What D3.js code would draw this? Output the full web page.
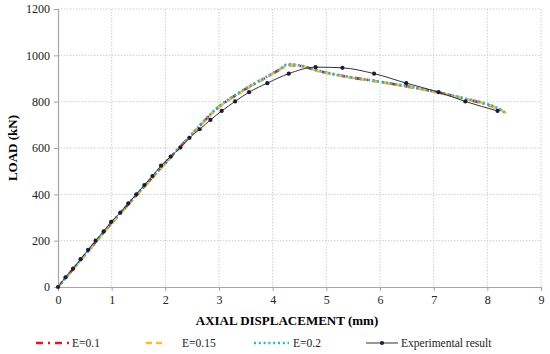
<!DOCTYPE html>
<html>
<head>
<meta charset="utf-8">
<script src="https://cdn.jsdelivr.net/npm/d3@7"></script>
<style>
  html, body { margin: 0; padding: 0; background: #fff; }
  svg text { font-family: "Liberation Serif", "Times New Roman", Tinos, serif !important; }
</style>
</head>
<body>
<svg id="chart" width="550" height="354"></svg>
<script>
// Load vs axial displacement — FE models vs experiment
const xTicks = [0, 1, 2, 3, 4, 5, 6, 7, 8, 9];
const yTicks = [0, 200, 400, 600, 800, 1000, 1200];

const expX = [0, 0.14, 0.28, 0.42, 0.56, 0.70, 0.85, 0.99, 1.16, 1.31, 1.46, 1.61, 1.76, 1.92, 2.10, 2.28, 2.45, 2.64, 2.84, 3.05, 3.30, 3.56, 3.90, 4.30, 4.80, 5.30, 5.89, 6.49, 7.09, 7.59, 8.19];
const expY = [0, 42, 79, 120, 160, 200, 240, 281, 321, 361, 400, 440, 479, 524, 563, 602, 644, 681, 721, 760, 801, 841, 880, 921, 949, 946, 921, 880, 841, 801, 760];

const fe01X = [0, 0.5, 1, 1.5, 2, 2.5, 3, 3.3, 3.6, 3.9, 4.15, 4.3, 4.5, 4.8, 5.3, 5.9, 6.5, 7, 7.6, 7.9, 8.2, 8.3];
const fe01Y = [0, 138, 276, 406, 535, 660, 778, 826, 869, 907, 941, 958, 955, 936, 911, 889, 866, 844, 811, 794, 769, 757];

const fe015X = [0, 0.5, 1, 1.5, 2, 2.5, 3, 3.3, 3.6, 3.9, 4.15, 4.32, 4.5, 4.8, 5.3, 5.9, 6.5, 7, 7.6, 7.9, 8.2, 8.36];
const fe015Y = [0, 137, 274, 404, 533, 659, 777, 825, 869, 908, 942, 960, 955, 935, 910, 888, 865, 843, 812, 795, 770, 749];

const fe02X = [0, 0.5, 1, 1.5, 2, 2.5, 3, 3.3, 3.6, 3.9, 4.15, 4.28, 4.5, 4.8, 5.3, 5.9, 6.5, 7, 7.6, 7.9, 8.2, 8.32];
const fe02Y = [0, 139, 278, 408, 537, 662, 780, 828, 871, 909, 943, 962, 957, 937, 912, 890, 867, 845, 813, 796, 771, 754];

const series = [
  { name: "E=0.1", xs: fe01X, ys: fe01Y, color: "#e0191f", dash: "7,4,2,4" },
  { name: "E=0.15", xs: fe015X, ys: fe015Y, color: "#f2c12e", dash: "7,5" },
  { name: "E=0.2", xs: fe02X, ys: fe02Y, color: "#29b3e0", dash: "2,2.5" }
];

const svg = d3.select("#chart");
const margin = { top: 9, right: 9, bottom: 67, left: 58 };
const width = 550 - margin.left - margin.right;
const height = 354 - margin.top - margin.bottom;

const x = d3.scaleLinear().domain([0, 9]).range([0, width]);
const y = d3.scaleLinear().domain([0, 1200]).range([height, 0]);

const g = svg.append("g").attr("transform", `translate(${margin.left},${margin.top})`);

// grid
g.append("g")
  .selectAll("line")
  .data(yTicks.filter((d) => d > 0))
  .join("line")
  .attr("x1", 0).attr("x2", width)
  .attr("y1", (d) => y(d)).attr("y2", (d) => y(d))
  .attr("stroke", "#cfcfcf").attr("stroke-dasharray", "1.5,1.5");

g.append("g")
  .selectAll("line")
  .data(xTicks.filter((d) => d > 0))
  .join("line")
  .attr("x1", (d) => x(d)).attr("x2", (d) => x(d))
  .attr("y1", 0).attr("y2", height)
  .attr("stroke", "#cfcfcf").attr("stroke-dasharray", "1.5,1.5");

// axes
const xAxis = g.append("g")
  .attr("transform", `translate(0,${height})`)
  .call(d3.axisBottom(x).tickValues(xTicks).tickFormat(d3.format("d")).tickSize(4).tickPadding(4));
const yAxis = g.append("g")
  .call(d3.axisLeft(y).tickValues(yTicks).tickFormat(d3.format("d")).tickSize(4).tickPadding(4));

[xAxis, yAxis].forEach((a) => {
  a.select(".domain").attr("stroke", "#a6a6a6").attr("stroke-width", 1.2);
  a.selectAll(".tick line").attr("stroke", "#a6a6a6");
  a.selectAll(".tick text")
    .attr("fill", "#222")
    .attr("font-size", 12);
});

// FE curves
const line = d3.line()
  .x((d) => x(d[0]))
  .y((d) => y(d[1]))
  .curve(d3.curveMonotoneX);

series.forEach((s) => {
  const pts = s.xs.map((v, i) => [v, s.ys[i]]);
  g.append("path")
    .datum(pts)
    .attr("fill", "none")
    .attr("stroke", s.color)
    .attr("stroke-width", 2.6)
    .attr("stroke-dasharray", s.dash)
    .attr("d", line);
});

// experimental
const expPts = expX.map((v, i) => [v, expY[i]]);
g.append("path")
  .datum(expPts)
  .attr("fill", "none")
  .attr("stroke", "#333")
  .attr("stroke-width", 1)
  .attr("d", line);

g.append("g")
  .selectAll("circle")
  .data(expPts)
  .join("circle")
  .attr("cx", (d) => x(d[0]))
  .attr("cy", (d) => y(d[1]))
  .attr("r", 2.1)
  .attr("fill", "#1c1c3a");

// axis titles
svg.append("text")
  .attr("x", 287).attr("y", 325)
  .attr("text-anchor", "middle")
  .attr("font-size", 13).attr("font-weight", "bold")
  .text("AXIAL DISPLACEMENT (mm)");

svg.append("text")
  .attr("transform", "translate(17,148) rotate(-90)")
  .attr("text-anchor", "middle")
  .attr("font-size", 13).attr("font-weight", "bold")
  .text("LOAD (kN)");

// legend
const legendY = 343;
const legend = [
  { name: "E=0.1", x1: 36, x2: 70, tx: 72, color: "#e0191f", dash: "7,5,2,5", w: 2.6 },
  { name: "E=0.15", x1: 146, x2: 166, tx: 182, color: "#f2c12e", dash: "6,4", w: 2.6 },
  { name: "E=0.2", x1: 254, x2: 289, tx: 293, color: "#29b3e0", dash: "2,2.8", w: 2.4 }
];
legend.forEach((l) => {
  svg.append("line")
    .attr("x1", l.x1).attr("x2", l.x2)
    .attr("y1", legendY).attr("y2", legendY)
    .attr("stroke", l.color).attr("stroke-width", l.w)
    .attr("stroke-dasharray", l.dash);
  svg.append("text")
    .attr("x", l.tx).attr("y", legendY + 4)
    .attr("font-size", 11.5).attr("fill", "#222")
    .text(l.name);
});
svg.append("line")
  .attr("x1", 366).attr("x2", 398)
  .attr("y1", legendY).attr("y2", legendY)
  .attr("stroke", "#333").attr("stroke-width", 1);
svg.append("circle")
  .attr("cx", 382).attr("cy", legendY).attr("r", 2.1).attr("fill", "#1c1c3a");
svg.append("text")
  .attr("x", 401).attr("y", legendY + 4)
  .attr("font-size", 11.5).attr("fill", "#222")
  .text("Experimental result");
</script>
</body>
</html>
